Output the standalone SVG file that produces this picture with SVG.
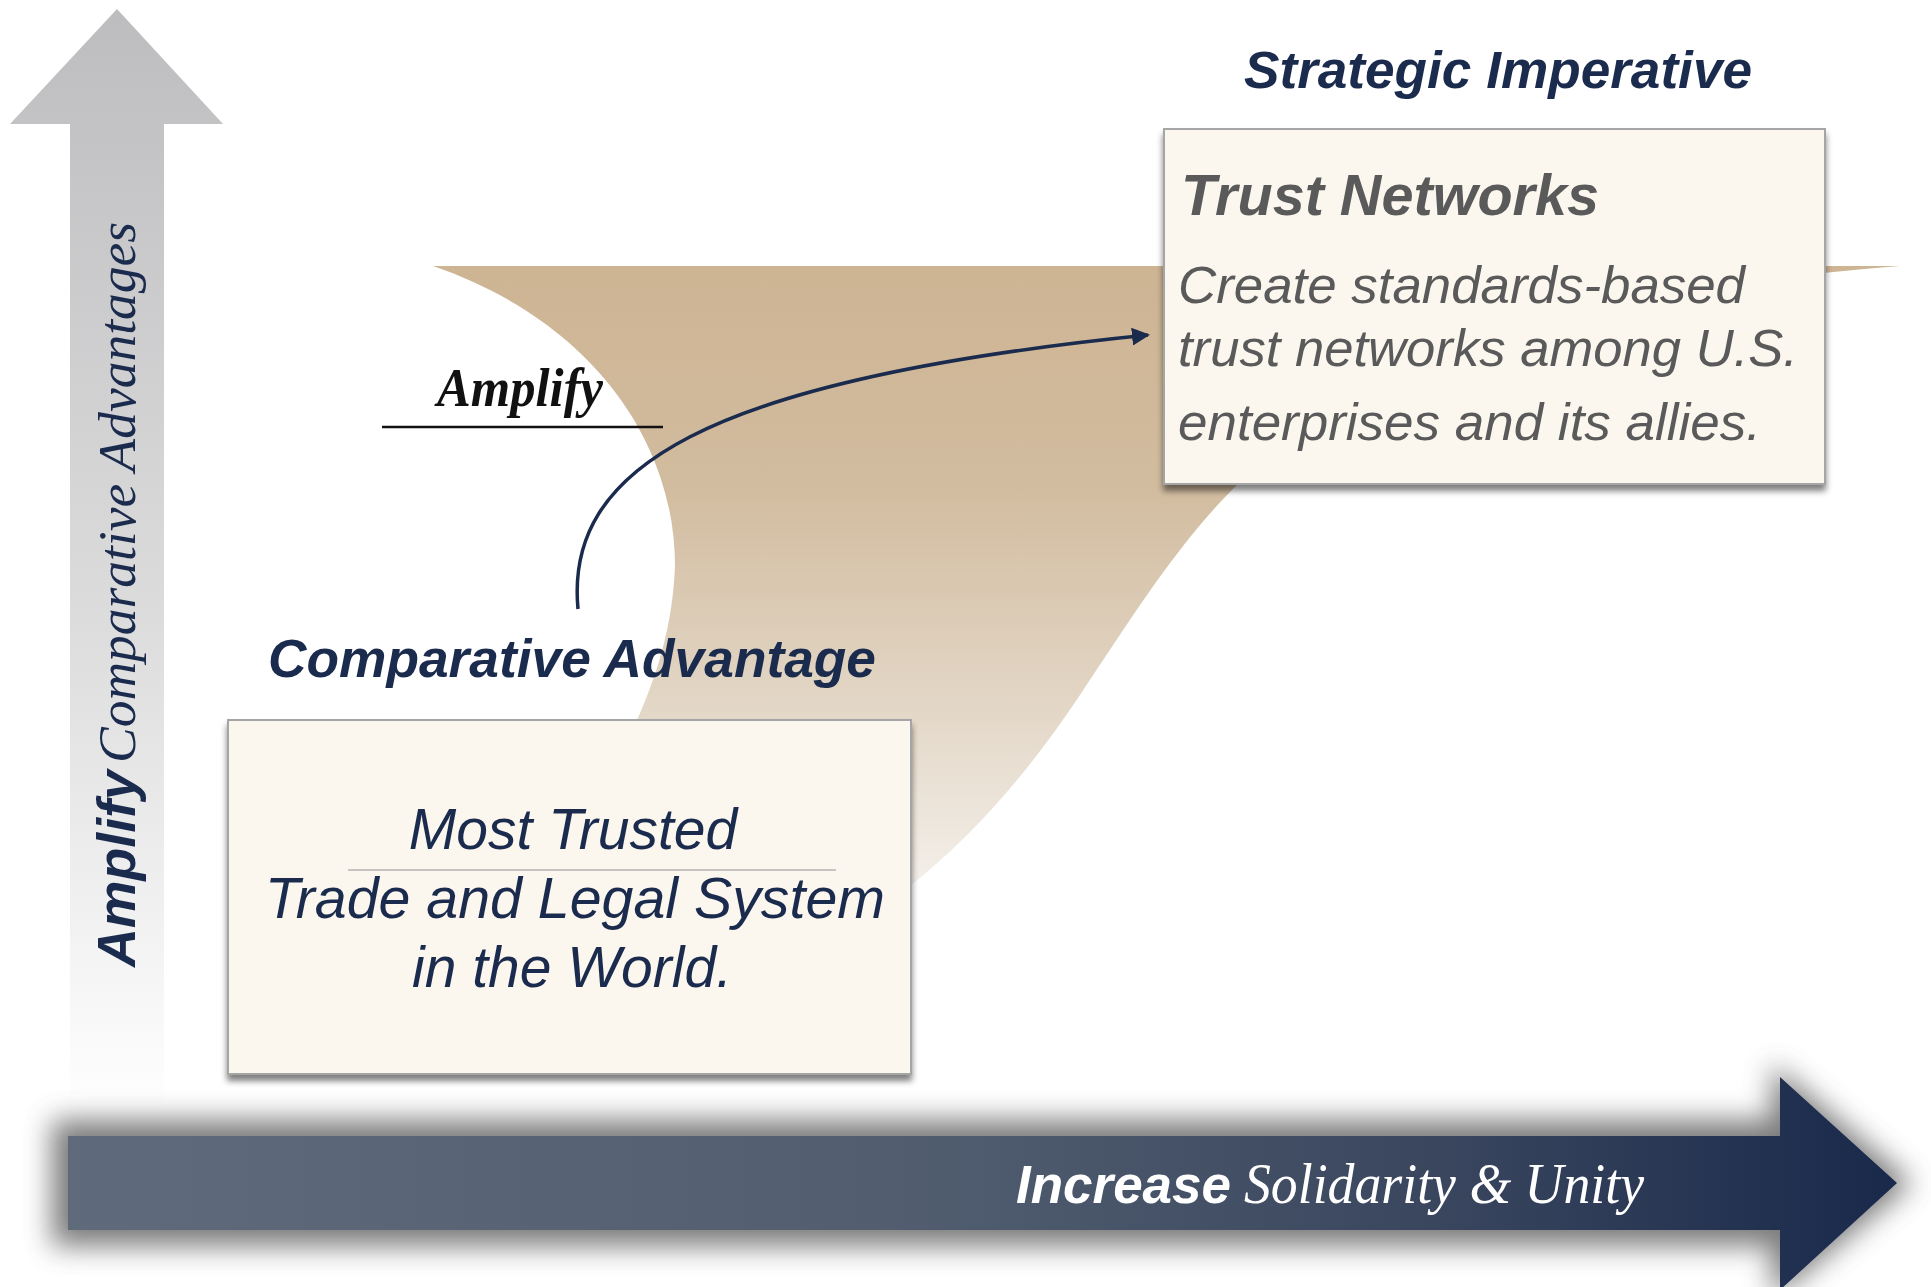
<svg xmlns="http://www.w3.org/2000/svg" width="1931" height="1287" viewBox="0 0 1931 1287">
<defs>
<style>
.sans{font-family:"Liberation Sans",Arial,sans-serif}
.serif{font-family:"Liberation Serif","Times New Roman",serif}
.navy{fill:#1b2b4e}
.boxrect{fill:#fbf7ee;stroke:#a5a5a5;stroke-width:2}
.conn{fill:none;stroke:#1b2b4e;stroke-width:3.5}
</style>
<linearGradient id="vgrad" x1="0" y1="0" x2="0" y2="1" gradientUnits="objectBoundingBox">
<stop offset="0" stop-color="#bdbdbf"/>
<stop offset="0.55" stop-color="#dcdcdd"/>
<stop offset="1" stop-color="#ffffff"/>
</linearGradient>
<linearGradient id="tgrad" x1="0" y1="266" x2="0" y2="900" gradientUnits="userSpaceOnUse">
<stop offset="0" stop-color="#cdb493"/>
<stop offset="0.35" stop-color="#d2bc9f"/>
<stop offset="0.7" stop-color="#e3d7c7"/>
<stop offset="1" stop-color="#f5f1ec"/>
</linearGradient>
<linearGradient id="hgrad" x1="68" y1="0" x2="1897" y2="0" gradientUnits="userSpaceOnUse">
<stop offset="0" stop-color="#5f6b7b"/>
<stop offset="0.45" stop-color="#525e70"/>
<stop offset="0.75" stop-color="#3a465e"/>
<stop offset="1" stop-color="#19294b"/>
</linearGradient>
<filter id="glow" x="-0.1" y="-0.5" width="1.2" height="2">
<feGaussianBlur stdDeviation="14"/>
</filter>
<filter id="shadow" x="-0.05" y="-0.05" width="1.1" height="1.15">
<feGaussianBlur in="SourceAlpha" stdDeviation="3"/>
<feOffset dx="0" dy="6" result="b"/>
<feFlood flood-color="#000" flood-opacity="0.5"/>
<feComposite in2="b" operator="in" result="s"/>
<feMerge><feMergeNode in="s"/><feMergeNode in="SourceGraphic"/></feMerge>
</filter>
<marker id="arrow" markerWidth="18" markerHeight="18" refX="16" refY="9" orient="auto" markerUnits="userSpaceOnUse" viewBox="0 0 18 18">
<path d="M0,0 L18,9 L0,18 Z" fill="#1b2b4e"/>
</marker>
</defs>
<rect width="1931" height="1287" fill="#ffffff"/>

<g id="vertical-axis">
<path d="M117,9 L223,124 L164,124 L164,1115 L70,1115 L70,124 L10,124 Z" fill="url(#vgrad)"/>
<text class="serif" transform="translate(135,967) rotate(-90)" font-size="53" font-style="italic" fill="#1b2b4e"><tspan class="sans" font-weight="bold" font-size="54" x="0" y="0" textLength="197" lengthAdjust="spacingAndGlyphs">Amplify</tspan><tspan x="204" y="0" textLength="541" lengthAdjust="spacingAndGlyphs">Comparative Advantages</tspan></text>
</g>

<g id="funnel">
<path d="M433,266 L1900,266 C1600,290 1320,350 1238,484 C1180,540 1130,620 1080,695 C1030,770 975,835 905,890 L880,1050 L620,1050 L633,730 C650,690 672,640 675,566 C675,440 590,320 433,266 Z" fill="url(#tgrad)"/>
</g>

<g id="amplify-label">
<text class="serif" x="437" y="406" font-size="54" font-weight="bold" font-style="italic" fill="#111" textLength="166" lengthAdjust="spacingAndGlyphs">Amplify</text>
<line x1="382" y1="427" x2="663" y2="427" stroke="#111" stroke-width="2.5"/>
</g>

<g id="connectors">
<path class="conn" d="M578,609 C565,470 700,380 1148,335" marker-end="url(#arrow)"/>
</g>

<g id="strategic-title">
<text class="sans navy" x="1244" y="88" font-size="51" font-weight="bold" font-style="italic" textLength="508" lengthAdjust="spacingAndGlyphs">Strategic Imperative</text>
</g>

<g id="trust-networks">
<rect class="boxrect" x="1164" y="129" width="661" height="355" filter="url(#shadow)"/>
<text class="sans" x="1181" y="215" font-size="57" font-weight="bold" font-style="italic" fill="#5a5a5a" textLength="418" lengthAdjust="spacingAndGlyphs">Trust Networks</text>
<g class="sans" font-size="52" font-style="italic" fill="#5a5a5a">
<text x="1178" y="303" textLength="567" lengthAdjust="spacingAndGlyphs">Create standards-based</text>
<text x="1178" y="366" textLength="620" lengthAdjust="spacingAndGlyphs">trust networks among U.S.</text>
<text x="1178" y="440" textLength="583" lengthAdjust="spacingAndGlyphs">enterprises and its allies.</text>
</g>
</g>

<g id="comparative-title">
<text class="sans navy" x="268" y="677" font-size="53" font-weight="bold" font-style="italic" textLength="608" lengthAdjust="spacingAndGlyphs">Comparative Advantage</text>
</g>

<g id="comparative-box">
<rect class="boxrect" x="228" y="720" width="683" height="354" filter="url(#shadow)"/>
<g class="sans navy" font-size="57" font-style="italic" text-anchor="middle">
<text x="573" y="849">Most Trusted</text>
<text x="575" y="918" textLength="620" lengthAdjust="spacingAndGlyphs">Trade and Legal System</text>
<text x="572" y="987">in the World.</text>
</g>
<line x1="348" y1="870" x2="836" y2="870" stroke="#b3b3b3" stroke-width="1.5"/>
</g>

<g id="horizontal-axis">
<path d="M52,1120 L1772,1120 L1772,1064 L1912,1183 L1772,1300 L1772,1246 L52,1246 Z" fill="#5a5a5a" opacity="0.8" filter="url(#glow)"/>
<path d="M68,1136 L1780,1136 L1780,1077 L1897,1183 L1780,1290 L1780,1230 L68,1230 Z" fill="url(#hgrad)"/>
<text class="sans" x="1016" y="1203" font-size="54" font-weight="bold" font-style="italic" fill="#ffffff" textLength="215" lengthAdjust="spacingAndGlyphs">Increase</text>
<text class="serif" x="1244" y="1203" font-size="56" font-style="italic" fill="#ffffff" textLength="400" lengthAdjust="spacingAndGlyphs">Solidarity &amp; Unity</text>
</g>
</svg>
